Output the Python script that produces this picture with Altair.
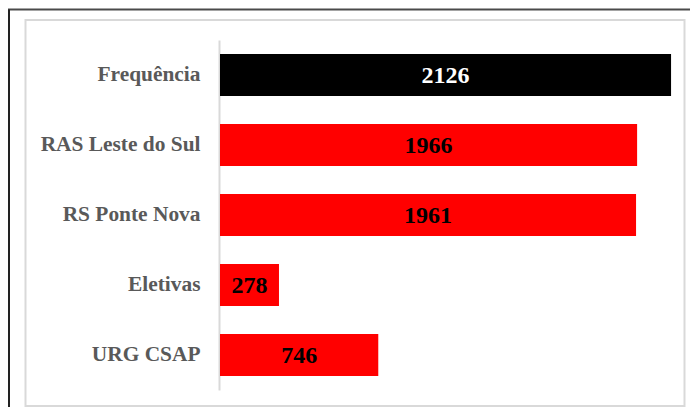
import altair as alt
import pandas as pd

categories = ["Frequência", "RAS Leste do Sul", "RS Ponte Nova", "Eletivas", "URG CSAP"]
values = [2126, 1966, 1961, 278, 746]
bar_colors = ["#000000", "#FF0000", "#FF0000", "#FF0000", "#FF0000"]
label_colors = ["#FFFFFF", "#000000", "#000000", "#000000", "#000000"]

df = pd.DataFrame({
    "cat": categories,
    "value": values,
    "bar_color": bar_colors,
    "label_color": label_colors,
})

W, H = 464, 350
XMAX = 2187

yenc = alt.Y(
    "cat:N",
    sort=categories,
    title=None,
    scale=alt.Scale(paddingInner=0.4, paddingOuter=0.2),
    axis=alt.Axis(
        labelFont="Liberation Serif",
        labelFontWeight="bold",
        labelFontSize=21.4,
        labelColor="#595959",
        labelPadding=19,
        ticks=False,
        tickSize=0,
        domainColor="#d9d9d9",
        domainWidth=2,
        offset=1,
        grid=False,
        labelLimit=400,
    ),
)

xscale = alt.Scale(domain=[0, XMAX], nice=False, zero=True)

bars = alt.Chart(df).mark_bar().encode(
    y=yenc,
    x=alt.X("value:Q", scale=xscale, axis=None),
    color=alt.Color("bar_color:N", scale=None, legend=None),
)

texts = alt.Chart(df).transform_calculate(mid="datum.value / 2").mark_text(
    font="Liberation Serif", fontWeight="bold", fontSize=24, baseline="middle", align="center", dy=1
).encode(
    y=alt.Y("cat:N", sort=categories),
    x=alt.X("mid:Q", scale=xscale),
    text=alt.Text("value:Q"),
    color=alt.Color("label_color:N", scale=None, legend=None),
)

frame_df = pd.DataFrame({"k": [0]})
inner_border = alt.Chart(frame_df).mark_rect(
    fill=None, stroke="#d9d9d9", strokeWidth=2
).encode(
    x=alt.value(-194.5), x2=alt.value(464.5), y=alt.value(-20), y2=alt.value(366)
)
top_dark = alt.Chart(frame_df).mark_rule(color="#4a4a4a", strokeWidth=2).encode(
    x=alt.value(-220), x2=alt.value(480), y=alt.value(-30.5)
)
left_dark = alt.Chart(frame_df).mark_rule(color="#222222", strokeWidth=2).encode(
    x=alt.value(-211), y=alt.value(-30.5), y2=alt.value(380)
)

chart = alt.layer(inner_border, top_dark, left_dark, bars, texts).properties(
    width=W,
    height=H,
    autosize=alt.AutoSizeParams(type="none"),
    padding={"left": 212, "top": 32, "right": 6, "bottom": 17},
    background="white",
).configure_view(stroke=None)

chart.save("out.html", embed_options={"renderer": "svg", "actions": False})
